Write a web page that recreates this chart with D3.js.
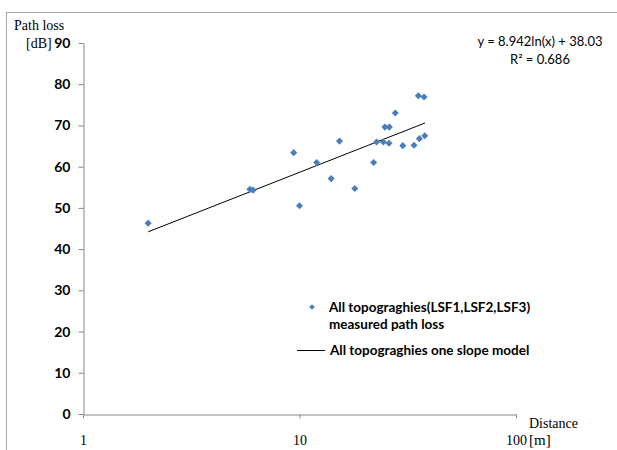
<!DOCTYPE html>
<html>
<head>
<meta charset="utf-8">
<script src="https://cdn.jsdelivr.net/npm/d3@7"></script>
<style>
  body { margin: 0; background: #fff; }
  svg { display: block; }
</style>
</head>
<body>
<div id="chart"></div>
<script>
// measured path loss (distance in m, loss in dB)
const distances = [2, 5.9, 6.1, 9.4, 10, 12, 14, 15.3, 18, 22, 22.7, 24.4, 24.8, 26, 25.9, 27.7, 30, 33.8, 35.4, 35.8, 37.6, 37.9];
const pathLoss  = [46.3, 54.5, 54.3, 63.4, 50.5, 61.0, 57.1, 66.2, 54.7, 61.0, 66.0, 66.0, 69.6, 69.6, 65.7, 73.0, 65.1, 65.2, 77.2, 66.8, 76.9, 67.5];

// one slope model end points
const trendX = [2, 38];
const trendY = [44.2, 70.6];

const xTicks = [1, 10, 100];
const yTicks = [0, 10, 20, 30, 40, 50, 60, 70, 80, 90];

const legendLabels = ["All topograghies(LSF1,LSF2,LSF3)", "measured path loss", "All topograghies one slope model"];
const equationLines = ["y = 8.942ln(x) + 38.03", "R² = 0.686"];

const width = 617, height = 450;
const blue = "#4a7ebb";
const axisColor = "#868686";

const svg = d3.select("#chart").append("svg")
    .attr("width", width)
    .attr("height", height);

// outer frame
svg.append("rect")
    .attr("x", 6.5).attr("y", 12.5)
    .attr("width", 700).attr("height", 500)
    .attr("fill", "none")
    .attr("stroke", "#a6a6a6");

const x = d3.scaleLog().domain([1, 100]).range([83, 516]);
const y = d3.scaleLinear().domain([0, 90]).range([414, 43]);

// y axis
const yAxis = svg.append("g")
    .attr("transform", "translate(83.5,0)")
    .call(d3.axisLeft(y).tickValues(yTicks).tickSize(5).tickPadding(8).tickSizeOuter(0));
yAxis.select(".domain").attr("stroke", axisColor);
yAxis.selectAll(".tick line").attr("stroke", axisColor);
yAxis.selectAll(".tick text")
    .attr("font-family", "Lato, sans-serif")
    .attr("font-weight", "bold")
    .attr("font-size", 14)
    .attr("fill", "#000");

// x axis
const xAxis = svg.append("g")
    .attr("transform", "translate(0,414.5)")
    .call(d3.axisBottom(x).tickValues(xTicks).tickFormat(d3.format("d")).tickSize(4).tickPadding(17).tickSizeOuter(0));
xAxis.select(".domain").attr("stroke", axisColor);
xAxis.selectAll(".tick line").attr("stroke", axisColor);
xAxis.selectAll(".tick text")
    .attr("font-family", "'Liberation Serif', serif")
    .attr("font-size", 14)
    .attr("fill", "#000");

// axis titles
const serif = "'Liberation Serif', serif";
svg.append("text").attr("x", 14).attr("y", 30)
    .attr("font-family", serif).attr("font-size", 14).text("Path loss");
svg.append("text").attr("x", 26).attr("y", 48)
    .attr("font-family", serif).attr("font-size", 14).text("[dB]");
svg.append("text").attr("x", 529).attr("y", 428)
    .attr("font-family", serif).attr("font-size", 14).text("Distance");
svg.append("text").attr("x", 529).attr("y", 445)
    .attr("font-family", serif).attr("font-size", 15).text("[m]");

// trend line
const line = d3.line().x(d => x(d[0])).y(d => y(d[1]));
svg.append("path")
    .datum(d3.zip(trendX, trendY))
    .attr("d", line)
    .attr("fill", "none")
    .attr("stroke", "#000")
    .attr("stroke-width", 1);

// measured points
const diamond = d3.symbol().type(d3.symbolDiamond2).size(32);
svg.append("g").selectAll("path")
    .data(d3.zip(distances, pathLoss))
    .join("path")
    .attr("transform", d => `translate(${x(d[0])},${y(d[1])})`)
    .attr("d", diamond)
    .attr("fill", blue);

// equation
const eq = svg.append("text")
    .attr("font-family", "Lato, sans-serif")
    .attr("font-size", 13)
    .attr("text-anchor", "middle");
eq.append("tspan").attr("x", 540).attr("y", 46).text(equationLines[0]);
eq.append("tspan").attr("x", 540).attr("y", 64).text(equationLines[1]);

// legend
const lg = svg.append("g")
    .attr("font-family", "Lato, sans-serif")
    .attr("font-size", 13.5)
    .attr("font-weight", "bold");
lg.append("path")
    .attr("transform", "translate(312,307)")
    .attr("d", d3.symbol().type(d3.symbolDiamond2).size(20))
    .attr("fill", blue);
lg.append("text").attr("x", 329).attr("y", 312).text(legendLabels[0]);
lg.append("text").attr("x", 329).attr("y", 329).text(legendLabels[1]);
lg.append("line")
    .attr("x1", 297).attr("x2", 325)
    .attr("y1", 350.5).attr("y2", 350.5)
    .attr("stroke", "#000");
lg.append("text").attr("x", 330).attr("y", 355).text(legendLabels[2]);
</script>
</body>
</html>
